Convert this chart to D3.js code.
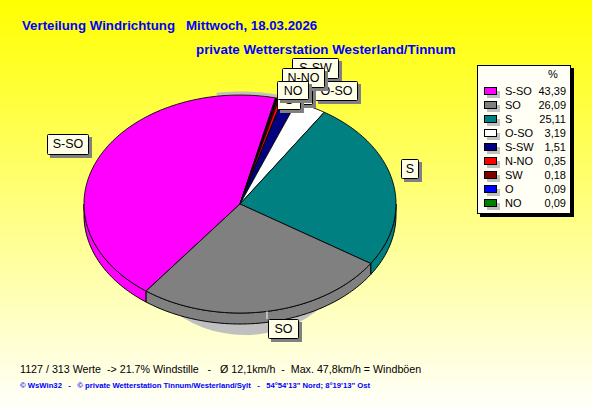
<!DOCTYPE html>
<html><head><meta charset="utf-8">
<script src="https://cdn.jsdelivr.net/npm/d3@7"></script>
<style>html,body{margin:0;padding:0;background:#fff}svg{display:block}text{font-family:"Liberation Sans",Arial,sans-serif}</style>
</head><body><svg id="c" width="592" height="407"></svg>
<script>
const categories = ["S-SO","SO","S","O-SO","S-SW","N-NO","SW","O","NO"];
const shares = [43.39,26.09,25.11,3.19,1.51,0.35,0.18,0.09,0.09];
const shareLabels = ["43,39","26,09","25,11","3,19","1,51","0,35","0,18","0,09","0,09"];
const colors = ["#ff00ff","#808080","#008080","#ffffff","#000080","#ff0000","#800000","#0000ff","#008000"];
// slice order clockwise around the pie, beginning at the SO / S-SO boundary
const pieOrder = ["S-SO","NO","O","SW","N-NO","S-SW","O-SO","S","SO"];
// callouts in drawing order: name, offset from pie centre, box size
const labelLayout = [
  ["S-SW",52,-146,46,20],["O-SO",75,-123,42,19],["SW",40,-116,32,16],["O",37,-114,23,19],
  ["N-NO",42,-136,42,19],["NO",37,-123,31,18],
  ["S-SO",-193,-70,41,20],["S",161,-45,17,19],["SO",28,115,30,19]
];
const title1 = "Verteilung Windrichtung   Mittwoch, 18.03.2026";
const title2 = "private Wetterstation Westerland/Tinnum";
const foot1 = "1127 / 313 Werte  -> 21.7% Windstille   -   Ø 12,1km/h  -  Max. 47,8km/h = Windböen";
const foot2 = "© WsWin32   -   © private Wetterstation Tinnum/Westerland/Sylt   -   54°54'13\" Nord; 8°19'13\" Ost";

const svg = d3.select("#c");
const defs = svg.append("defs");
const g = defs.append("linearGradient").attr("id","bg").attr("x1",0).attr("y1",0).attr("x2",0).attr("y2",1);
g.append("stop").attr("offset",0).attr("stop-color","#ffff00");
g.append("stop").attr("offset",1).attr("stop-color","#fffffa");
svg.append("rect").attr("width",592).attr("height",407).attr("fill","url(#bg)");

const T = (x,y,s,o={}) => svg.append("text").attr("x",x).attr("y",y).text(s)
  .attr("font-size",o.size||12).attr("fill",o.fill||"#000").attr("font-weight",o.w||"normal")
  .attr("text-anchor",o.a||"start").style("white-space","pre");

T(22,30,title1,{size:13.25,w:"bold",fill:"#0000ff"});
T(196,54,title2,{size:13.35,w:"bold",fill:"#0000ff"});
T(20,373,foot1,{size:10.7,fill:"#000"});
T(20,388,foot2,{size:7.7,fill:"#0000ff",w:"bold"});

// pie geometry
const cx=240, cy=204, rx=156, ry=109, depth=11;
const sx = d3.scaleLinear().domain([-1,1]).range([cx-rx,cx+rx]);
const sy = d3.scaleLinear().domain([-1,1]).range([cy-ry,cy+ry]);
const startAngle = 217*Math.PI/180;
const valueOf = new Map(categories.map((c,i)=>[c,shares[i]]));
const colorOf = new Map(categories.map((c,i)=>[c,colors[i]]));
const arcs = d3.pie().sort(null).value(d=>valueOf.get(d))
  .startAngle(startAngle).endAngle(startAngle+2*Math.PI)(pieOrder);
const pt = (a,dy=0)=>[sx(Math.sin(a)),sy(-Math.cos(a))+dy];
const samples = (a0,a1,dy=0)=>{const n=Math.max(2,Math.ceil(Math.abs(a1-a0)*60));
  return d3.range(n+1).map(i=>pt(a0+(a1-a0)*i/n,dy));};
const line=d3.line();

// drop shadow
svg.append("ellipse").attr("cx",245).attr("cy",235).attr("rx",110).attr("ry",100).attr("fill","#c0c0c0");
svg.append("path").attr("d",line(samples(-0.15,0.24,-2))).attr("fill","none").attr("stroke","#c0c0c0").attr("stroke-width",3);

// side wall: visible where the rim faces the viewer
const PI=Math.PI;
arcs.forEach(d=>{
  const a=d.startAngle,b=d.endAngle;
  const segs=[];
  let a0=Math.max(a,PI/2), b0=Math.min(b,3*PI/2);
  if(a0<b0) segs.push([a0,b0]);
  let a2=Math.max(a,PI/2+2*PI), b2=Math.min(b,3*PI/2+2*PI);
  if(a2<b2) segs.push([a2,b2]);
  segs.forEach(([s,e])=>{
    const p=samples(s,e,0).concat(samples(e,s,depth));
    svg.append("path").attr("d",line(p)+"Z").attr("fill",colorOf.get(d.data)).attr("stroke","#000").attr("stroke-width",1);
  });
});
// top faces
arcs.forEach(d=>{
  const p=[[sx(0),sy(0)]].concat(samples(d.startAngle,d.endAngle));
  svg.append("path").attr("d",line(p)+"Z").attr("fill",colorOf.get(d.data)).attr("stroke","#000").attr("stroke-width",0.9);
});

// callouts
const mid = new Map(arcs.map(d=>[d.data,(d.startAngle+d.endAngle)/2]));
labelLayout.forEach(([name,ox,oy,w,h])=>{
  const x=cx+ox, y=cy+oy;
  if(name==="SO"){
    const [px,py]=pt(mid.get(name));
    svg.append("line").attr("x1",px).attr("y1",py).attr("x2",px).attr("y2",y).attr("stroke","#fff");
  }
  svg.append("rect").attr("x",x+3).attr("y",y+3).attr("width",w+1).attr("height",h+1).attr("fill","#808080");
  svg.append("rect").attr("x",x+.5).attr("y",y+.5).attr("width",w).attr("height",h).attr("rx",1).attr("fill","#ffffe8").attr("stroke","#000");
  T(x+w/2+.5,y+14,name,{a:"middle",size:12.5});
});

// legend
const lx=477, ly=65, lw=93, lh=148;
svg.append("rect").attr("x",lx+3).attr("y",ly+3).attr("width",lw+1).attr("height",lh+1).attr("fill","#000");
svg.append("rect").attr("x",lx+.5).attr("y",ly+.5).attr("width",lw).attr("height",lh).attr("fill","#fffff5").attr("stroke","#000");
T(553,78,"%",{a:"middle",size:11});
const ys = d3.scalePoint().domain(categories).range([91,203]);
categories.forEach((c,i)=>{
  const y=ys(c);
  svg.append("rect").attr("x",487).attr("y",y).attr("width",13).attr("height",7).attr("fill","#c0c0c0");
  svg.append("rect").attr("x",484.5).attr("y",y-3.5).attr("width",12).attr("height",7).attr("fill",colors[i]).attr("stroke","#000").attr("stroke-width",1);
  T(505,y+4,c,{size:11});
  T(566,y+4,shareLabels[i],{a:"end",size:11});
});
</script></body></html>
